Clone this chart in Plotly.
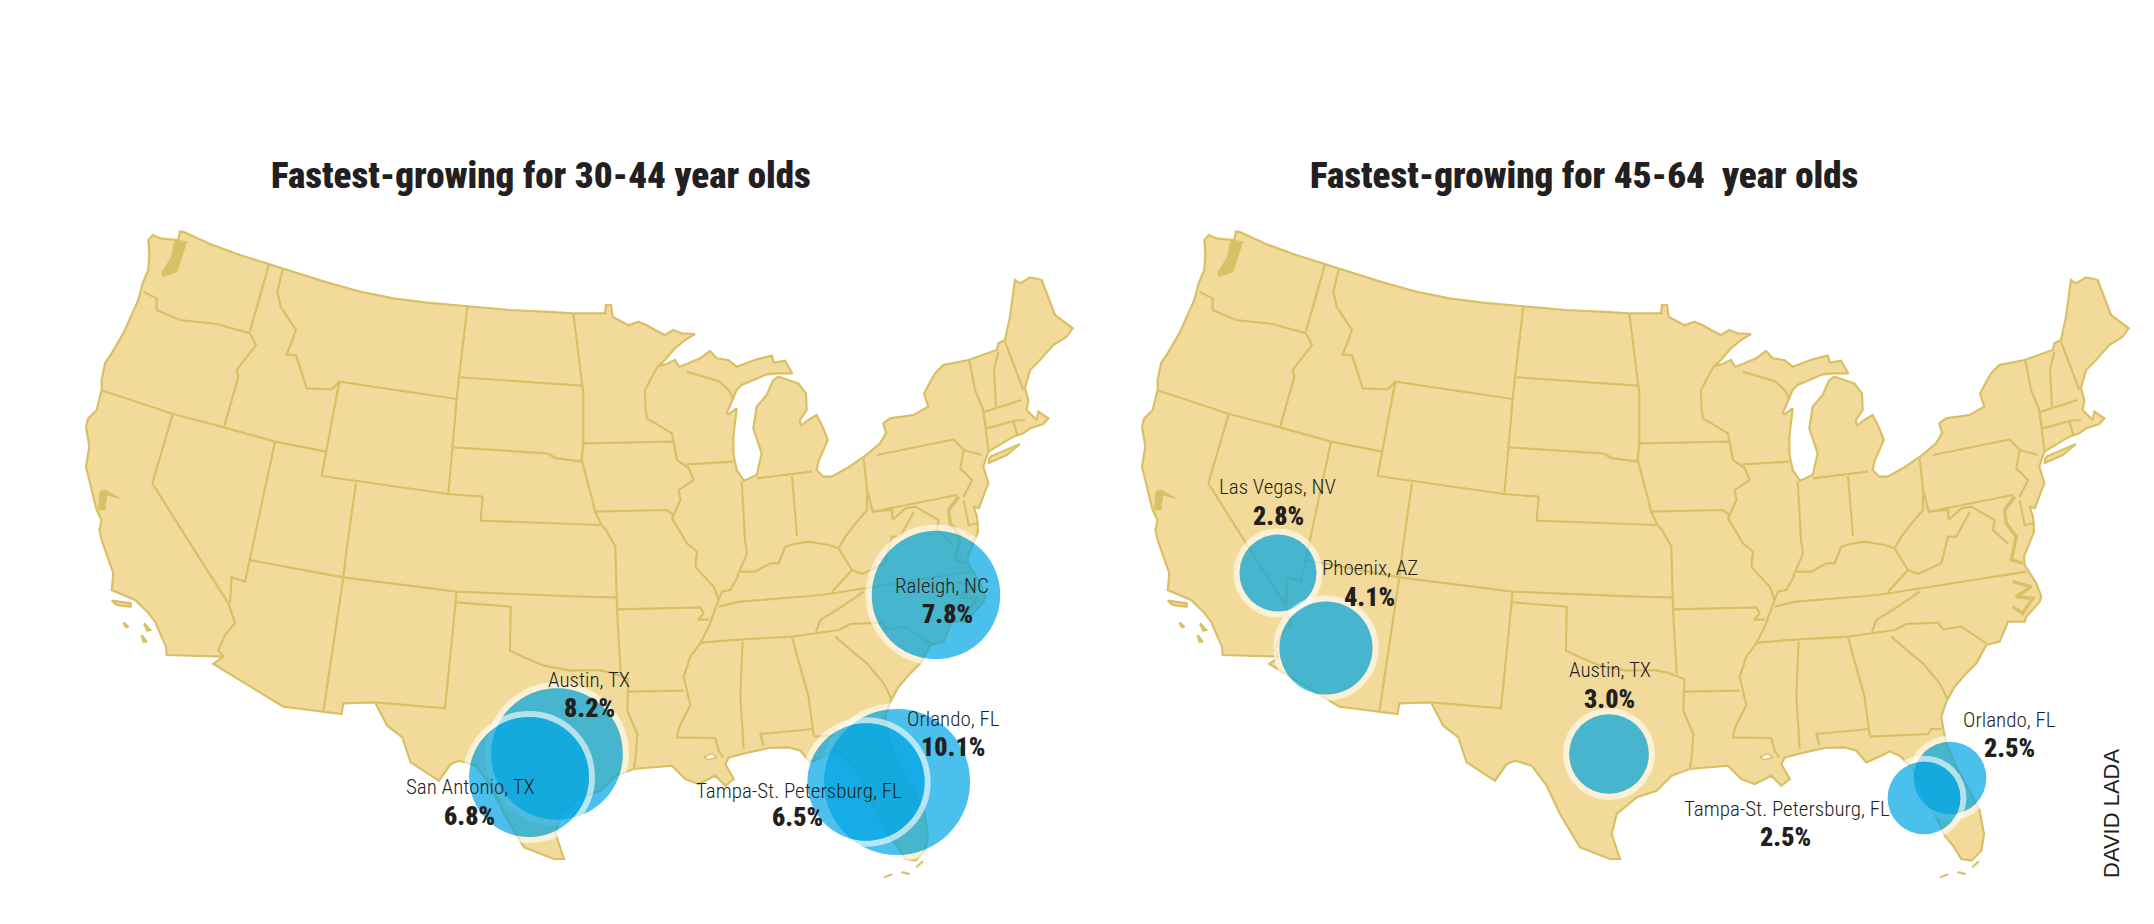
import numpy as np
import plotly.graph_objects as go

US_OUTLINE = [
    (370,35),(450,72),(540,105),(625,132),(670,148),(800,187),(900,215),(1000,235),(1100,248),(1222,258),
    (1350,270),(1450,275),(1540,280),(1635,280),(1638,255),(1653,255),(1658,290),(1680,302),(1705,316),(1735,305),
    (1765,318),(1785,330),(1815,345),(1840,330),(1865,340),(1905,342),(1875,360),(1845,385),(1810,425),(1792,440),
    (1820,432),(1845,420),(1857,440),(1880,432),(1920,415),(1950,393),(1970,415),(2005,420),(2030,440),(2090,418),
    (2135,407),(2142,428),(2175,422),(2197,460),(2150,460),(2120,463),(2090,475),(2045,495),(2030,510),(2015,545),
    (2000,580),(2005,583),(2030,565),(2020,650),(2020,700),(2030,750),(2052,782),(2090,765),(2105,700),(2080,625),
    (2090,560),(2120,525),(2140,480),(2155,470),(2215,490),(2238,520),(2240,570),(2220,600),(2222,618),(2245,600),
    (2270,585),(2290,625),(2303,660),(2290,690),(2275,725),(2270,750),(2290,770),(2315,770),(2360,745),(2415,708),
    (2460,670),(2478,640),(2470,610),(2490,595),(2560,585),(2605,560),(2592,520),(2625,460),(2650,435),(2725,420),
    (2810,390),(2815,370),(2835,360),(2850,290),(2865,180),(2880,190),(2910,172),(2945,180),(2985,285),(3005,300),
    (3038,325),(3020,350),(2980,375),(2940,420),(2910,450),(2895,505),(2905,540),(2900,570),(2930,600),(2935,575),
    (2965,595),(2950,612),(2910,625),(2890,640),(2860,650),(2785,695),(2770,740),(2785,790),(2770,830),(2756,865),
    (2741,860),(2751,890),(2754,935),(2724,1010),(2726,1035),(2761,1090),(2776,1130),(2771,1145),(2731,1190),(2726,1205),
    (2676,1205),(2651,1265),(2611,1275),(2581,1330),(2546,1365),(2516,1400),(2491,1445),(2476,1490),(2481,1522),(2491,1572),
    (2526,1652),(2561,1712),(2591,1772),(2604,1842),(2596,1892),(2566,1922),(2536,1917),(2511,1877),(2486,1847),(2466,1802),
    (2436,1752),(2406,1682),(2386,1642),(2351,1607),(2321,1594),(2296,1607),(2251,1627),(2221,1592),(2186,1582),(2126,1584),
    (2066,1597),(2036,1604),(2006,1612),(1996,1632),(2021,1677),(1996,1697),(1966,1667),(1916,1692),(1876,1677),(1836,1637),
    (1766,1642),(1721,1647),(1667,1667),(1622,1712),(1562,1732),(1502,1782),(1487,1842),(1512,1917),(1482,1917),(1392,1882),
    (1362,1832),(1332,1782),(1292,1697),(1247,1637),(1197,1622),(1172,1632),(1137,1682),(1092,1652),(1052,1627),(1027,1552),
    (982,1517),(945,1447),(850,1450),(845,1482),(790,1475),(670,1460),(460,1332),(490,1310),(320,1305),(318,1280),
    (285,1205),(262,1175),(225,1140),(155,1110),(160,1060),(125,960),(118,930),(125,900),(110,870),(95,810),
    (78,740),(88,680),(78,620),(85,595),(110,570),(125,510),(125,480),(135,430),(155,400),(190,340),
    (235,240),(248,190),(265,150),(268,100),(265,60),(278,45),(300,55),(355,60),(360,35),(370,35),
]
LONG_ISLAND = [(2790,710),(2880,672),(2840,705),(2785,730),(2790,710)]
SANTA_CRUZ = [(155,1142),(212,1150),(212,1160),(170,1155),(155,1142)]
CATALINA = [(190,1208),(205,1220),(198,1222),(190,1208)]
SAN_CLEMENTE = [(252,1210),(270,1230),(262,1232),(252,1210)]
SAN_NICOLAS = [(245,1245),(260,1265),(250,1265),(245,1245)]
PUGET_SOUND = [(345,60),(380,65),(365,110),(350,155),(310,170),(305,160),(335,110),(345,60)]
SF_BAY = [(120,815),(135,810),(180,835),(140,825),(135,870),(115,870),(120,815)]
PONTCHARTRAIN = [(1931,1612),(1956,1600),(1971,1612),(1946,1619),(1931,1612)]

STATE_LINES = [
    [(627,132),(570,335)],
    [(668,148),(652,215),(662,260),(708,330),(680,405),(708,405),(740,505),(815,508),(838,485)],
    [(250,215),(290,235),(290,270),(360,300),(470,312),(570,340)],
    [(570,340),(588,375),(530,450),(535,470),(492,622)],
    [(122,510),(340,582),(492,622),(645,665),(798,695)],
    [(838,485),(1190,537)],
    [(838,485),(785,768)],
    [(785,768),(1165,822),(1268,830)],
    [(1222,258),(1190,537),(1165,822)],
    [(1202,472),(1565,497)],
    [(1180,682),(1460,700),(1490,715),(1565,725)],
    [(1268,830),(1262,902),(1625,915)],
    [(645,665),(582,960),(568,1020),(555,1085),(515,1072),(510,1150)],
    [(338,582),(277,790),(400,985),(505,1150),(525,1210),(495,1245),(475,1290),(490,1310)],
    [(568,1020),(850,1072),(1190,1115),(1560,1130),(1666,1132)],
    [(888,790),(860,985),(850,1072),(790,1475)],
    [(1190,1115),(1155,1465),(945,1447)],
    [(1190,1147),(1352,1160),(1350,1292),(1392,1312),(1452,1337),(1532,1352),(1612,1350),(1652,1357),(1705,1377),(1702,1472),(1732,1542),(1727,1612),(1722,1647)],
    [(1625,915),(1641,935),(1666,980),(1671,1168),(1682,1362)],
    [(1671,1168),(1921,1162),(1931,1180),(1914,1200),(1946,1198)],
    [(1705,1415),(1872,1412)],
    [(1976,1140),(1946,1220),(1921,1270),(1891,1310),(1871,1370),(1891,1455),(1856,1525),(1851,1552),(1966,1554),(1976,1592),(1990,1612)],
    [(1976,1140),(1961,1100),(1906,1040),(1911,995),(1881,970),(1836,895),(1861,840),(1856,810),(1901,780),(1886,745),(1851,720),(1841,670),(1836,640),(1761,595),(1756,560),(1755,510),(1792,440)],
    [(1540,280),(1565,470),(1570,520),(1570,670),(1565,720),(1600,850),(1605,875),(1625,915)],
    [(1565,670),(1840,665)],
    [(1605,875),(1820,870),(1840,885)],
    [(1880,455),(1980,485),(2010,515),(2020,540)],
    [(1880,733),(2020,725)],
    [(2045,783),(2055,960),(2061,1000),(2031,1070)],
    [(2036,1065),(2011,1110),(1986,1115),(1976,1140)],
    [(2196,768),(2211,948)],
    [(2091,775),(2256,755)],
    [(2036,1055),(2086,1055),(2131,1030),(2156,1030),(2176,980),(2211,970),(2246,965),(2306,975),(2336,985),(2376,1050),(2316,1115)],
    [(2336,985),(2356,950),(2391,905),(2421,870),(2421,810),(2411,715)],
    [(2421,810),(2438,875),(2691,825)],
    [(2451,705),(2681,658),(2711,690),(2701,745),(2736,780),(2711,830)],
    [(2711,690),(2766,705)],
    [(2728,420),(2745,510),(2770,570),(2785,690)],
    [(2815,395),(2802,450),(2808,560)],
    [(2835,365),(2890,510)],
    [(2775,575),(2885,540)],
    [(2780,625),(2865,602),(2895,600)],
    [(2860,605),(2872,645)],
    [(2438,875),(2496,870),(2498,900),(2536,865),(2566,860),(2636,900),(2631,930),(2676,970)],
    [(2561,875),(2521,950),(2496,950),(2476,1030),(2406,1062),(2376,1050)],
    [(2711,840),(2726,915),(2756,910)],
    [(1976,1160),(2041,1145),(2286,1125),(2731,1055)],
    [(2411,1115),(2346,1160),(2281,1200),(2268,1235)],
    [(1921,1268),(2046,1258),(2196,1250),(2336,1230),(2371,1212),(2466,1208),(2481,1228),(2536,1220),(2611,1270)],
    [(2326,1250),(2366,1285),(2421,1330),(2471,1390),(2496,1440)],
    [(2048,1265),(2041,1422),(2051,1587)],
    [(2196,1252),(2246,1432),(2261,1547)],
    [(2261,1527),(2101,1542),(2111,1577)],
    [(2261,1550),(2436,1542),(2446,1527),(2476,1527)],
]
CHESAPEAKE = [(2696,830),(2666,870),(2671,910),(2701,950),(2686,1020),(2721,1030)]
PAMLICO = [(2690,1085),(2745,1100),(2700,1130),(2750,1135),(2720,1180),(2690,1160)]
KEYS = [(2471,1972),(2490,1965),(2531,1957),(2546,1962),(2591,1922)]

# right hand map is the same outline shifted over
RIGHT_MAP_SHIFT = 1056

TITLES = ["Fastest-growing for 30-44 year olds", "Fastest-growing for 45-64\u00a0 year olds"]
TITLE_X = [541, 1584]

CITIES = ["Austin, TX", "San Antonio, TX", "Raleigh, NC", "Orlando, FL", "Tampa-St. Petersburg, FL",
          "Las Vegas, NV", "Phoenix, AZ", "Austin, TX", "Orlando, FL", "Tampa-St. Petersburg, FL"]
GROWTH = [8.2, 6.8, 7.8, 10.1, 6.5, 2.8, 4.1, 3.0, 2.5, 2.5]
CITY_X = [557, 529, 936, 897, 866, 1278, 1326, 1609, 1950, 1924]
CITY_Y = [754, 777, 595, 782, 782, 573, 648, 754, 778, 798]
NAME_X = [589, 470, 942, 953, 799, 1277, 1370, 1610, 2009, 1787]
NAME_Y = [680, 787, 586, 719, 791, 487, 568, 670, 720, 809]
PCT_X = [589, 469, 947, 953, 797, 1278, 1369, 1609, 2009, 1785]
PCT_Y = [708, 816, 614, 747, 817, 516, 597, 699, 748, 837]

LAND = "#f2db9a"
BORDER = "#d9bf66"
INK = "#231f20"
NARROW = "Roboto Condensed"


def to_px(points, shift=0):
    pts = np.array(points, dtype=float)
    return 60 + pts[:, 0] / 3 + shift, 220 + pts[:, 1] / 3


def join(shapes, shift=0):
    xs, ys = [], []
    for shape in shapes:
        x, y = to_px(shape, shift)
        xs += list(x) + [None]
        ys += list(y) + [None]
    return xs, ys


fig = go.Figure()

for shift in [0, RIGHT_MAP_SHIFT]:
    # land
    x, y = join([US_OUTLINE, LONG_ISLAND, SANTA_CRUZ, CATALINA, SAN_CLEMENTE, SAN_NICOLAS], shift)
    fig.add_trace(go.Scatter(x=x, y=y, mode="lines", fill="toself", fillcolor=LAND,
                             line=dict(color=BORDER, width=2.2), hoverinfo="skip"))
    # water inside the land
    x, y = join([PONTCHARTRAIN], shift)
    fig.add_trace(go.Scatter(x=x, y=y, mode="lines", fill="toself", fillcolor="white",
                             line=dict(color=BORDER, width=1.5), hoverinfo="skip"))
    x, y = join([PUGET_SOUND, SF_BAY], shift)
    fig.add_trace(go.Scatter(x=x, y=y, mode="lines", fill="toself", fillcolor=BORDER,
                             line=dict(color=BORDER, width=1), hoverinfo="skip"))
    # state lines
    x, y = join(STATE_LINES, shift)
    fig.add_trace(go.Scatter(x=x, y=y, mode="lines", line=dict(color=BORDER, width=2.2), hoverinfo="skip"))
    x, y = join([CHESAPEAKE, PAMLICO], shift)
    fig.add_trace(go.Scatter(x=x, y=y, mode="lines", line=dict(color=BORDER, width=3.5), hoverinfo="skip"))
    x, y = join([KEYS], shift)
    fig.add_trace(go.Scatter(x=x, y=y, mode="lines", line=dict(color=BORDER, width=2, dash="dash"), hoverinfo="skip"))

# bubbles, area goes with the growth number
diameters = 46 * np.sqrt(GROWTH)
for i in range(len(CITIES)):
    fig.add_trace(go.Scatter(
        x=[CITY_X[i]], y=[CITY_Y[i]], mode="markers", hoverinfo="skip",
        marker=dict(size=diameters[i] + 6, color="rgba(0,0,0,0)",
                    line=dict(color="rgba(255,255,255,0.6)", width=6))))
    fig.add_trace(go.Scatter(
        x=[CITY_X[i]], y=[CITY_Y[i]], mode="markers", name=CITIES[i],
        marker=dict(size=diameters[i], color="rgba(0,165,228,0.7)", line=dict(width=0))))

    fig.add_annotation(x=NAME_X[i], y=NAME_Y[i], text=CITIES[i], showarrow=False,
                       font=dict(family=NARROW, size=21, weight=300, color=INK))
    fig.add_annotation(x=PCT_X[i], y=PCT_Y[i], text="%.1f%%" % GROWTH[i], showarrow=False,
                       font=dict(family=NARROW, size=26, weight=900, color=INK))

for title, tx in zip(TITLES, TITLE_X):
    fig.add_annotation(x=tx, y=175, text=title, showarrow=False,
                       font=dict(family=NARROW, size=37, weight=900, color=INK))

fig.add_annotation(x=2111, y=813, text="DAVID LADA", textangle=-90, showarrow=False,
                   font=dict(family="Liberation Sans", size=22, color=INK))

fig.update_layout(
    width=2154, height=924,
    margin=dict(l=0, r=0, t=0, b=0),
    paper_bgcolor="white", plot_bgcolor="white",
    showlegend=False,
    xaxis=dict(range=[0, 2154], visible=False, fixedrange=True),
    yaxis=dict(range=[924, 0], visible=False, fixedrange=True),
)

fig.write_html("out.html", config=dict(displayModeBar=False), post_script="document.body.style.margin='0';")
